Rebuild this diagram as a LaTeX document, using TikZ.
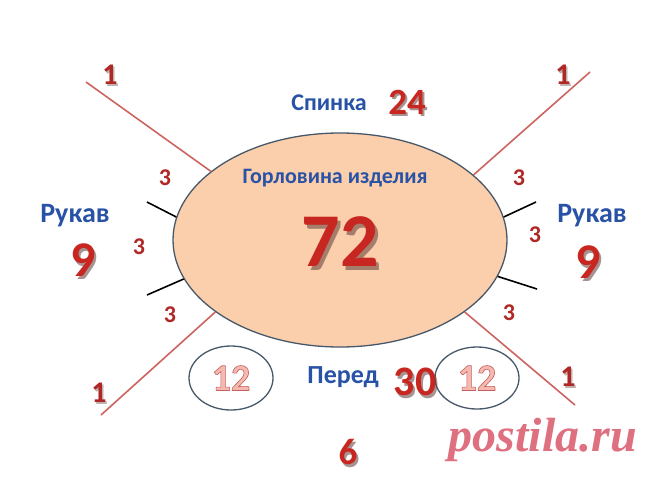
\documentclass[tikz,border=0pt]{standalone}
\usepackage{fontspec}
\setmainfont{Carlito}
\newfontfamily\wmfont{Liberation Serif}
\newfontface\twfont{Carlito Bold}[FakeBold=1.6]
\usetikzlibrary{shapes.geometric}
\definecolor{peach}{RGB}{251,206,172}
\definecolor{edgec}{RGB}{70,88,106}
\definecolor{lred}{RGB}{205,100,95}
\definecolor{dred}{RGB}{200,38,32}
\definecolor{mred}{RGB}{175,40,38}
\definecolor{shd}{RGB}{95,60,55}
\definecolor{lblue}{RGB}{40,82,165}
\definecolor{pinkf}{RGB}{245,185,176}
\definecolor{wm}{RGB}{222,112,128}
\newcommand{\outlinered}{\special{pdf:literal direct 0.77 0.38 0.38 RG}}
\begin{document}
\begin{tikzpicture}[x=1pt,y=-1pt,
  redline/.style={draw=lred,line width=1.6pt},
  tick/.style={draw=black,line width=1.6pt},
  small/.style={font=\fontsize{24}{24}\selectfont\bfseries,text=mred,inner sep=0},
  one/.style={font=\fontsize{30}{30}\selectfont\bfseries,text=mred,inner sep=0},
  big/.style={font=\fontsize{#1}{#1}\selectfont\bfseries,text=dred,inner sep=0},
  bigs/.style={font=\fontsize{#1}{#1}\selectfont\bfseries,text=shd,opacity=0.55,inner sep=0},
  lbl/.style={font=\fontsize{#1}{#1}\selectfont\bfseries,text=lblue,inner sep=0,anchor=base},
  twelve/.style={font=\twfont\fontsize{38}{38}\selectfont,text=pinkf,inner sep=0},
  ring/.style={draw=edgec,line width=1.3pt,ellipse,inner sep=0}
]
\useasboundingbox (0,0) rectangle (660,485);
\fill[white] (0,0) rectangle (660,485);

% main ellipse
\node[ellipse,draw=edgec,fill=peach,line width=1.3pt,minimum width=334pt,minimum height=214pt,inner sep=0] (neck) at (340,240) {};

% free ends
\coordinate (tl) at (86,82);
\coordinate (tr) at (590,72);
\coordinate (bl) at (101,415);
\coordinate (br) at (575,405);
\coordinate (ta) at (147,202);
\coordinate (tb) at (147,295);
\coordinate (tc) at (536,202);
\coordinate (td) at (537,289);

\draw[redline] (tl) -- (neck.152);
\draw[redline] (tr) -- (neck.26);
\draw[redline] (bl) -- (neck.210);
\draw[redline] (br) -- (neck.330);

\draw[tick] (ta) -- (neck.172);
\draw[tick] (tb) -- (neck.194);
\draw[tick] (tc) -- (neck.8);
\draw[tick] (td) -- (neck.347);

% small ellipses
\node[ring,minimum width=84pt,minimum height=64pt] (r1) at (231,378) {};
\node[ring,minimum width=84pt,minimum height=62pt] (r2) at (477,378) {};

% labels
\node[lbl=22] (gor) at (335,183) {Горловина изделия};
\node[lbl=24] (spin) at (329,110) {Спинка};
\node[lbl=28] (ruk1) at (75,222) {Рукав};
\node[lbl=28] (ruk2) at (592,222) {Рукав};
\node[lbl=26] (per) at (343,383) {Перед};

% ones
\node[one,text=shd,opacity=0.4] (o1s) at (111.5,76.5) {1};
\node[one] (o1) at (110,75) {1};
\node[one,text=shd,opacity=0.4] (o2s) at (564.5,76.5) {1};
\node[one] (o2) at (563,75) {1};
\node[one,text=shd,opacity=0.4] (o3s) at (100.5,394.5) {1};
\node[one] (o3) at (99,393) {1};
\node[one,text=shd,opacity=0.4] (o4s) at (569.5,378.5) {1};
\node[one] (o4) at (568,377) {1};

% threes
\node[small] (t1) at (165,178) {3};
\node[small] (t2) at (139,247) {3};
\node[small] (t3) at (170,315) {3};
\node[small] (t4) at (519,178) {3};
\node[small] (t5) at (535,235) {3};
\node[small] (t6) at (509,313) {3};

% big numbers with shadow
\node[bigs=50] (n9as) at (85,263) {9};
\node[big=50] (n9a) at (83,260) {9};
\node[bigs=50] (n9bs) at (590,265) {9};
\node[big=50] (n9b) at (588,262) {9};
\node[bigs=37] (n24s) at (409,104) {24};
\node[big=37] (n24) at (407,102) {24};
\node[bigs=76] (n72s) at (343,246) {72};
\node[big=76] (n72) at (340,242) {72};
\node[bigs=42] (n30s) at (417,385) {30};
\node[big=42] (n30) at (415,382) {30};
\node[bigs=37] (n6s) at (350,455) {6};
\node[big=37] (n6) at (348,452) {6};

% outlined 12s
\node[twelve] (a12) at (231,378) {\outlinered 12};
\node[twelve] (b12) at (477,378) {\outlinered 12};

% watermark
\node[font=\wmfont\fontsize{48}{48}\selectfont\bfseries\itshape,text=wm,inner sep=0] (wmk) at (543,440) {postila.ru};
\end{tikzpicture}
\end{document}
